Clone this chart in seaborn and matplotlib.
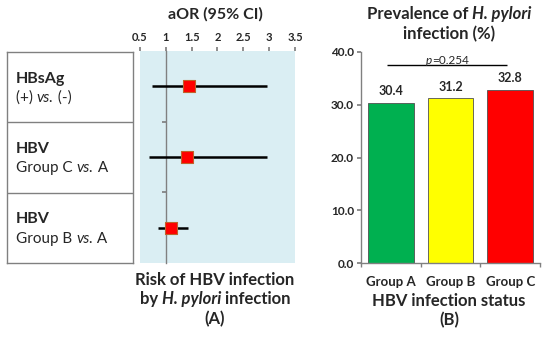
import matplotlib.pyplot as plt
import seaborn as sns
import pandas as pd

# forest plot data (A)
comparisons = ['HBsAg', 'HBV', 'HBV']
comp_sub = [['(+) ', 'vs.', ' (-)'], ['Group C ', 'vs.', ' A'], ['Group B ', 'vs.', ' A']]
aor = [1.45, 1.41, 1.10]
ci_low = [0.73, 0.67, 0.85]
ci_high = [2.96, 2.96, 1.43]
or_ticks = [0.5, 1, 1.5, 2, 2.5, 3, 3.5]

# prevalence data (B)
groups = ['Group A', 'Group B', 'Group C']
prevalence = [30.4, 31.2, 32.8]
bar_colors = ['#00B050', '#FFFF00', '#FF0000']

sns.set_theme(style='white')
plt.rcParams['font.family'] = ['Lato', 'DejaVu Sans']

fig = plt.figure(figsize=(5.5, 3.39), dpi=100)
W, H = 550, 339
renderer = fig.canvas.get_renderer()
grey = '#808080'


def box(x0, y0, x1, y1):
    return [x0 / W, 1 - y1 / H, (x1 - x0) / W, (y1 - y0) / H]


def rich_text(x, y, pieces, size, bold=True, ha='center'):
    # pieces: list of (string, italic?) drawn side by side, x/y in pixels
    objs = []
    for s, it in pieces:
        t = fig.text(0, 0, s, fontsize=size, fontweight='bold' if bold else 'normal',
                     fontstyle='italic' if it else 'normal', va='center', ha='left')
        objs.append(t)
    widths = [t.get_window_extent(renderer).width for t in objs]
    x0 = x - sum(widths) / 2 if ha == 'center' else x
    for t, w in zip(objs, widths):
        t.set_position((x0 / W, 1 - y / H))
        x0 += w


# ---- table on the left
axt = fig.add_axes(box(7, 52, 133, 263))
axt.set_xlim(0, 1)
axt.set_ylim(0.5, 3.5)
axt.set_xticks([])
axt.set_yticks([])
for s in axt.spines.values():
    s.set_color(grey)
    s.set_linewidth(1)
for i, c in enumerate(comparisons):
    y = 3 - i
    axt.text(0.07, y + 0.12, c, fontsize=11.5, fontweight='bold', va='center', ha='left')
    if i > 0:
        axt.axhline(y + 0.5, color=grey, lw=1)
row_px = [98, 168, 239]
for sub, ypx in zip(comp_sub, row_px):
    rich_text(16, ypx, [(sub[0], False), (sub[1], True), (sub[2], False)], 11, bold=False, ha='left')

# ---- forest plot
axf = fig.add_axes(box(140, 51, 295, 263))
axf.set_facecolor('#DAEEF3')
forest = pd.DataFrame({'aor': aor, 'lo': ci_low, 'hi': ci_high, 'y': [3, 2, 1]})
axf.hlines(forest['y'], forest['lo'], forest['hi'], color='black', lw=1.8, zorder=3)
sns.scatterplot(data=forest, x='aor', y='y', marker='s', s=70, color='#FF0000',
                edgecolor='#C0622A', linewidth=0.8, ax=axf, zorder=4, legend=False)
axf.set_xlim(0.5, 3.5)
axf.set_ylim(0.5, 3.5)
axf.xaxis.tick_top()
axf.set_xticks(or_ticks)
axf.set_xticklabels([f'{t:g}' for t in or_ticks], fontsize=8, fontweight='bold')
axf.tick_params(axis='x', top=True, direction='out', length=3, color=grey, pad=3)
axf.set_yticks([1.5, 2.5])
axf.set_yticklabels([])
axf.tick_params(axis='y', left=True, direction='out', length=3, color=grey)
axf.spines['left'].set_position(('data', 1))
axf.spines['left'].set_color(grey)
axf.spines['left'].set_linewidth(1)
for s in ['top', 'right', 'bottom']:
    axf.spines[s].set_visible(False)
axf.set_xlabel('')
axf.set_ylabel('')

fig.text(215 / W, 1 - 14 / H, 'aOR (95% CI)', ha='center', va='center',
         fontsize=11.5, fontweight='bold')
rich_text(215, 280, [('Risk of HBV infection', False)], 12)
rich_text(215, 299, [('by ', False), ('H. pylori', True), (' infection', False)], 12)
rich_text(215, 319, [('(A)', False)], 12)

# ---- bar chart
axb = fig.add_axes(box(361, 52, 540, 263))
bars = pd.DataFrame({'group': groups, 'prev': prevalence})
sns.barplot(data=bars, x='group', y='prev', hue='group', palette=bar_colors, saturation=1,
            width=0.77, edgecolor='#505050', linewidth=0.6, ax=axb, legend=False)
for i, v in enumerate(prevalence):
    axb.annotate(f'{v:.1f}', (i, v), xytext=(0, 4), textcoords='offset points',
                 ha='center', va='bottom', fontsize=9, fontweight='bold')
axb.hlines(37.5, -0.07, 1.95, color='black', lw=1)
axb.set_xlim(-0.5, 2.5)
axb.set_ylim(0, 40)
axb.set_yticks([0, 10, 20, 30, 40])
axb.set_yticklabels([f'{t:.1f}' for t in [0, 10, 20, 30, 40]], fontsize=8.5, fontweight='bold')
axb.set_xticks([0, 1, 2])
axb.set_xticklabels(groups, fontsize=9.5, fontweight='bold')
axb.set_xticks([-0.5, 0.5, 1.5, 2.5], minor=True)
axb.tick_params(axis='x', which='major', length=0, pad=9)
axb.tick_params(axis='x', which='minor', bottom=True, length=3, color=grey)
axb.tick_params(axis='y', left=True, length=3, color=grey, pad=2)
for s in ['top', 'right']:
    axb.spines[s].set_visible(False)
for s in ['left', 'bottom']:
    axb.spines[s].set_color(grey)
    axb.spines[s].set_linewidth(1)
axb.set_xlabel('')
axb.set_ylabel('')

rich_text(447, 60, [('p', True), ('=0.254', False)], 8.5, bold=False)
rich_text(449, 14, [('Prevalence of ', False), ('H. pylori', True)], 12)
rich_text(449, 34, [('infection (%)', False)], 12)
rich_text(449, 301, [('HBV infection status', False)], 12)
rich_text(449, 320, [('(B)', False)], 12)

fig.savefig('out.png', dpi=100)
